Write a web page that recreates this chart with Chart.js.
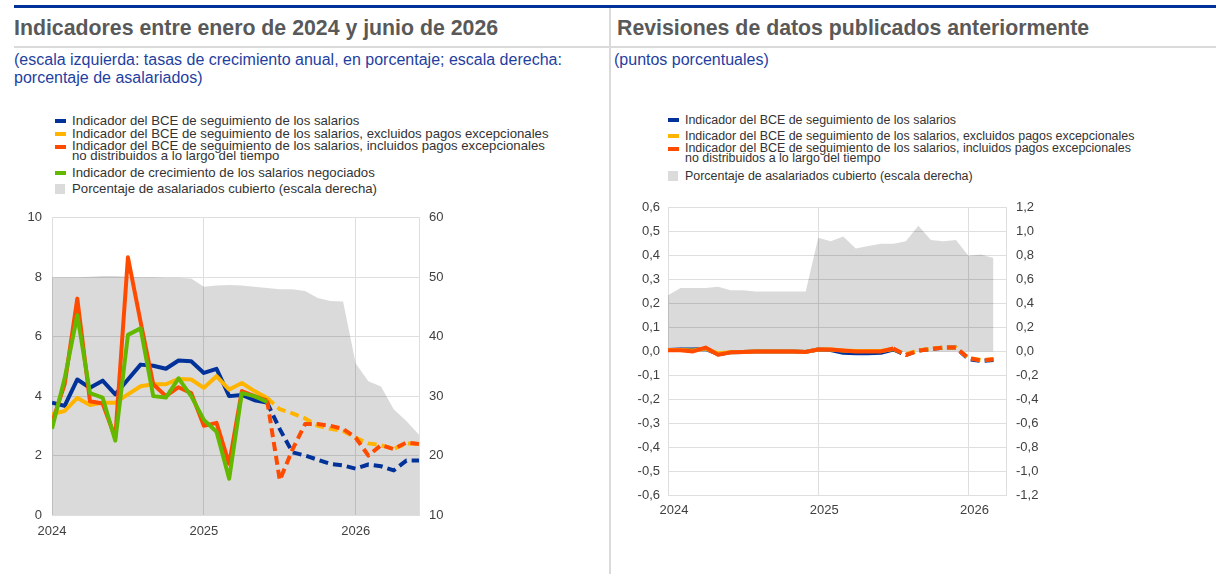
<!DOCTYPE html>
<html>
<head>
<meta charset="utf-8">
<script src="https://cdn.jsdelivr.net/npm/chart.js@4/dist/chart.umd.min.js"></script>
<style>
  body { margin: 0; background: #fff; font-family: "Liberation Sans", Arial, sans-serif; }
  #page { position: relative; width: 1216px; height: 574px; overflow: hidden; }
  .abs { position: absolute; }
  .title { font-weight: bold; font-size: 21.3px; color: #595959; white-space: nowrap; }
  .sub { font-size: 16px; color: #1f3f9f; line-height: 18px; }
  .leg { position: absolute; color: #333; white-space: nowrap; line-height: 12px; }
  .leg .mk { position: absolute; width: 11px; height: 4px; }
  .leg .sq { position: absolute; width: 10px; height: 10px; background: #dbdbdb; }
  canvas { position: absolute; }
</style>
</head>
<body>
<div id="page">
  <div class="abs" style="left:14px;top:5px;width:1202px;height:3px;background:#003299"></div>
  <div class="abs" style="left:14px;top:46px;width:595px;height:2px;background:#dadada"></div>
  <div class="abs" style="left:611px;top:46px;width:605px;height:2px;background:#dadada"></div>
  <div class="abs" style="left:609px;top:8px;width:2px;height:566px;background:#dadada"></div>

  <div class="abs title" style="left:14px;top:16px">Indicadores entre enero de 2024 y junio de 2026</div>
  <div class="abs sub" style="left:14px;top:51px;width:560px">(escala izquierda: tasas de crecimiento anual, en porcentaje; escala derecha: porcentaje de asalariados)</div>

  <div class="abs title" style="left:617px;top:16px">Revisiones de datos publicados anteriormente</div>
  <div class="abs sub" style="left:614px;top:51px">(puntos porcentuales)</div>

  <div id="legL"></div>
  <div id="legR"></div>

  <canvas id="chartL" width="470" height="350" style="left:0px;top:200px"></canvas>
  <canvas id="chartR" width="450" height="345" style="left:610px;top:190px"></canvas>
</div>

<script>
// Jan 2024 .. Jun 2026, monthly
var startYear = 2024;
var yearLabels = ['2024', '2025', '2026'];

// left panel, annual growth %
var trackerL    = [3.78, 3.67, 4.56, 4.28, 4.52, 4.06, 4.56, 5.06, 5.02, 4.92, 5.2, 5.17, 4.78, 4.92, 4.0, 4.04, 3.86, 3.78, 2.89, 2.11, 2.0, 1.86, 1.72, 1.67, 1.56, 1.7, 1.64, 1.5, 1.83, 1.83];
var exclOneOffL = [3.4, 3.5, 3.94, 3.7, 3.78, 3.78, 4.06, 4.33, 4.4, 4.4, 4.58, 4.56, 4.28, 4.67, 4.22, 4.44, 4.17, 3.94, 3.56, 3.42, 3.25, 3.0, 2.9, 2.83, 2.6, 2.41, 2.35, 2.22, 2.41, 2.39];
var inclOneOffL = [3.1, 4.4, 7.28, 3.83, 3.75, 2.6, 8.67, 6.5, 4.4, 4.0, 4.3, 4.1, 3.0, 3.1, 1.72, 4.17, 4.0, 3.85, 1.17, 2.2, 3.06, 3.06, 3.0, 2.9, 2.6, 2.0, 2.35, 2.22, 2.44, 2.39];
var negotiatedL = [2.9, 4.6, 6.72, 4.1, 3.95, 2.5, 6.06, 6.28, 4.0, 3.95, 4.6, 4.0, 3.2, 2.8, 1.22, 4.1, 4.0, 3.8];
// right scale, % of employees covered
var coverageL   = [50, 50, 50, 50.1, 50.2, 50.2, 50.1, 50, 50, 49.9, 49.9, 49.8, 48.4, 48.6, 48.7, 48.6, 48.4, 48.2, 48.0, 48.0, 47.7, 46.5, 46.0, 45.9, 35.5, 32.5, 31.6, 27.8, 25.8, 23.5];

// right panel, revisions in pp
var trackerR    = [0.006, 0.008, 0.008, 0.01, -0.012, -0.004, -0.002, 0.0, 0.0, 0.0, 0.0, -0.002, 0.008, 0.006, -0.006, -0.008, -0.008, -0.006, 0.008, -0.015, 0.003, 0.01, 0.016, 0.016, -0.032, -0.04, -0.036];
var exclOneOffR = [0.006, 0.006, 0.004, 0.012, -0.008, -0.004, -0.002, 0.0, 0.0, 0.0, 0.0, -0.002, 0.008, 0.008, 0.004, 0.002, 0.002, 0.002, 0.01, -0.012, 0.004, 0.012, 0.016, 0.016, -0.028, -0.036, -0.032];
var inclOneOffR = [0.005, 0.005, 0.0, 0.016, -0.014, -0.004, -0.002, 0.0, 0.0, 0.0, 0.0, -0.002, 0.008, 0.008, 0.004, 0.0, 0.0, 0.0, 0.012, -0.015, 0.003, 0.01, 0.016, 0.016, -0.028, -0.038, -0.033];
var coverageR   = [0.47, 0.53, 0.53, 0.53, 0.54, 0.51, 0.51, 0.5, 0.5, 0.5, 0.5, 0.5, 0.95, 0.92, 0.96, 0.86, 0.88, 0.9, 0.9, 0.92, 1.05, 0.93, 0.92, 0.93, 0.8, 0.81, 0.78];

var solidEndL = 17;
var solidEndR = 18;

var legendItems = [
  {label: 'Indicador del BCE de seguimiento de los salarios', color: '#003299'},
  {label: 'Indicador del BCE de seguimiento de los salarios, excluidos pagos excepcionales', color: '#ffb400'},
  {label: 'Indicador del BCE de seguimiento de los salarios, incluidos pagos excepcionales<br>no distribuidos a lo largo del tiempo', color: '#ff4b00'},
  {label: 'Indicador de crecimiento de los salarios negociados', color: '#65b800'},
  {label: 'Porcentaje de asalariados cubierto (escala derecha)', color: null}
];

var BLUE = '#003299', YELLOW = '#ffb400', ORANGE = '#ff4b00', GREEN = '#65b800';
var GRID = '#dedede';
var TICK = '#404040';
var FILL = 'rgba(0,0,0,0.145)';

function buildLegend(el, items, x, tops, size) {
  var html = '';
  items.forEach(function (it, k) {
    var top = tops[k];
    html += '<div class="leg" style="left:' + x + 'px;top:' + (top - 6) + 'px;font-size:' + size + 'px">';
    if (it.color) {
      html += '<span class="mk" style="left:0;top:4px;background:' + it.color + '"></span>';
    } else {
      html += '<span class="sq" style="left:0;top:1px"></span>';
    }
    var lh = it.label.indexOf('<br>') >= 0 ? 'line-height:10px;' : '';
    html += '<span style="position:absolute;left:17px;top:0;' + lh + '">' + it.label + '</span></div>';
  });
  document.getElementById(el).innerHTML = html;
}

buildLegend('legL', legendItems, 55, [121, 134, 147, 173, 189], 13.2);
buildLegend('legR', [legendItems[0], legendItems[1], legendItems[2], legendItems[4]], 668, [120, 136, 149, 176], 12.45);

function pts(arr) {
  return arr.map(function (v, i) { return {x: i, y: v}; });
}

function lineSet(label, arr, color, solidEnd, order) {
  return {
    label: label,
    data: pts(arr),
    borderColor: color,
    backgroundColor: color,
    borderWidth: 4,
    borderJoinStyle: 'round',
    pointRadius: 0,
    fill: false,
    order: order,
    yAxisID: 'y',
    segment: {
      borderDash: function (ctx) { return ctx.p0DataIndex >= solidEnd ? [9, 5] : undefined; }
    }
  };
}

function areaSet(label, arr, fillTo, order) {
  return {
    label: label,
    data: pts(arr),
    borderWidth: 0,
    borderColor: 'rgba(0,0,0,0)',
    backgroundColor: FILL,
    pointRadius: 0,
    fill: fillTo,
    order: order,
    yAxisID: 'y2'
  };
}

function yearTick(v) {
  return v % 12 === 0 ? yearLabels[v / 12] : '';
}

function comma(v) {
  var s = (Math.round(v * 10) / 10).toFixed(1).replace('.', ',');
  return s === '-0,0' ? '0,0' : s;
}

var tickFont = {family: "'Liberation Sans', Arial, sans-serif", size: 13};

function baseOptions(o) {
  return {
    responsive: false,
    animation: false,
    events: [],
    layout: {autoPadding: false, padding: {left: 0, right: 0, top: o.top, bottom: 0}},
    plugins: {legend: {display: false}, tooltip: {enabled: false}},
    elements: {line: {tension: 0}},
    scales: {
      x: {
        type: 'linear', min: 0, max: o.xMax,
        grid: {color: GRID, drawTicks: false},
        border: {color: GRID},
        ticks: {stepSize: 12, includeBounds: false, callback: yearTick, color: TICK, font: tickFont,
                padding: o.xPad, maxRotation: 0, autoSkip: false, labelOffset: o.xOff},
        afterFit: function (s) { s.height = o.xH; }
      },
      y: {
        position: 'left', min: o.yMin, max: o.yMax,
        grid: {color: GRID, drawTicks: false},
        border: {color: GRID},
        ticks: {stepSize: o.yStep, color: TICK, font: tickFont, padding: o.yPad, callback: o.yFmt},
        afterFit: function (s) { s.width = o.yW; }
      },
      y2: {
        position: 'right', min: o.y2Min, max: o.y2Max,
        grid: {display: false, drawTicks: false},
        border: {display: true, color: GRID},
        ticks: {stepSize: o.y2Step, color: TICK, font: tickFont, padding: 10, callback: o.y2Fmt},
        afterFit: function (s) { s.width = o.y2W; }
      }
    }
  };
}

new Chart(document.getElementById('chartL').getContext('2d'), {
  type: 'line',
  data: {
    datasets: [
      lineSet('negociados', negotiatedL, GREEN, 99, 0),
      lineSet('incluidos', inclOneOffL, ORANGE, solidEndL, 1),
      lineSet('excluidos', exclOneOffL, YELLOW, solidEndL, 2),
      lineSet('indicador', trackerL, BLUE, solidEndL, 3),
      areaSet('cubierto', coverageL, 'start', 4)
    ]
  },
  options: baseOptions({
    top: 15, xMax: 29, xH: 35, xPad: 9, xOff: 0,
    yMin: 0, yMax: 10, yStep: 2, yW: 52, yPad: 10, yFmt: function (v) { return v; },
    y2Min: 10, y2Max: 60, y2Step: 10, y2W: 51, y2Fmt: function (v) { return v; }
  })
});

new Chart(document.getElementById('chartR').getContext('2d'), {
  type: 'line',
  data: {
    datasets: [
      lineSet('incluidos', inclOneOffR, ORANGE, solidEndR, 0),
      lineSet('excluidos', exclOneOffR, YELLOW, solidEndR, 1),
      lineSet('indicador', trackerR, BLUE, solidEndR, 2),
      areaSet('cubierto', coverageR, 'origin', 3)
    ]
  },
  options: baseOptions({
    top: 12, xMax: 27, xH: 40, xPad: 8, xOff: 6,
    yMin: -0.6, yMax: 0.6, yStep: 0.1, yW: 58, yPad: 8, yFmt: comma,
    y2Min: -1.2, y2Max: 1.2, y2Step: 0.2, y2W: 54, y2Fmt: comma
  })
});
</script>
</body>
</html>
